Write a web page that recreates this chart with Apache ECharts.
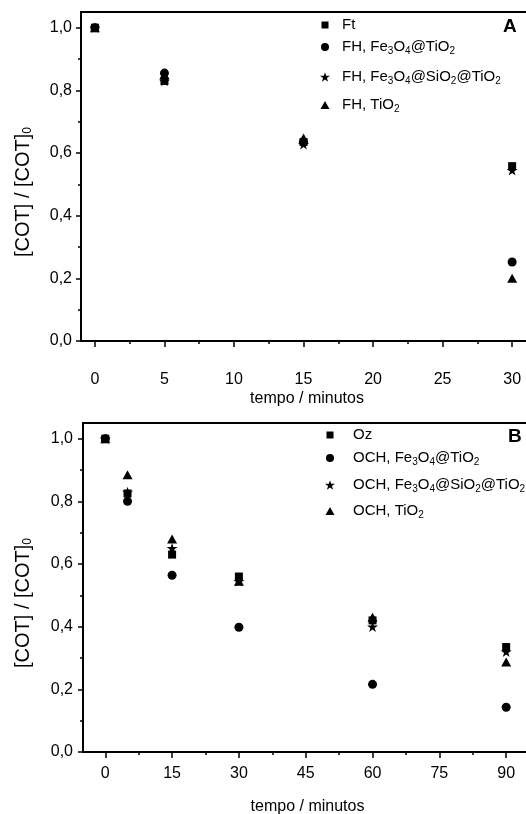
<!DOCTYPE html>
<html><head><meta charset="utf-8">
<script src="https://cdn.jsdelivr.net/npm/echarts@6/dist/echarts.min.js"></script>
<style>html,body{margin:0;padding:0;background:#fff}#c{width:526px;height:814px}</style>
</head><body><div id="c"></div>
<script>
// ---- data ----
const timeA = [0, 5, 15, 30];
const ftA = [1.0, 0.83, 0.635, 0.558];
const fhFeTiA = [1.0, 0.855, 0.635, 0.252];
const fhFeSiTiA = [1.0, 0.83, 0.628, 0.545];
const fhTiA = [1.0, 0.85, 0.648, 0.20];

const timeB = [0, 5, 15, 30, 60, 90];
const ozB = [1.0, 0.825, 0.63, 0.56, 0.42, 0.335];
const ochFeTiB = [1.0, 0.80, 0.564, 0.398, 0.216, 0.143];
const ochFeSiTiB = [1.0, 0.83, 0.65, 0.545, 0.40, 0.32];
const ochTiB = [1.0, 0.885, 0.68, 0.545, 0.43, 0.287];

const namesA = ['Ft', 'FH, Fe3O4@TiO2', 'FH, Fe3O4@SiO2@TiO2', 'FH, TiO2'];
const namesB = ['Oz', 'OCH, Fe3O4@TiO2', 'OCH, Fe3O4@SiO2@TiO2', 'OCH, TiO2'];

const xTicksA = [0, 5, 10, 15, 20, 25, 30];
const xMinorA = [2.5, 7.5, 12.5, 17.5, 22.5, 27.5];
const xTicksB = [0, 15, 30, 45, 60, 75, 90];
const xMinorB = [7.5, 22.5, 37.5, 52.5, 67.5, 82.5];
const yTicks = [0, 0.2, 0.4, 0.6, 0.8, 1.0];
const yMinor = [0.1, 0.3, 0.5, 0.7, 0.9];

// ---- style ----
const FONT = "'Liberation Sans', Arial, sans-serif";
const SQ = 'path://M0,0H10V10H0Z';
const CI = 'path://M5,0A5,5,0,1,1,5,10A5,5,0,1,1,5,0Z';
const ST = 'path://M50,0L61.2,34.5L97.6,34.5L68.2,55.9L79.4,90.5L50,69.1L20.6,90.5L31.8,55.9L2.4,34.5L38.8,34.5Z';
const TR = 'path://M5,0L10,9L0,9Z';
const symbols = [SQ, CI, ST, TR];
const symSizes = [8, 9, 11, 10];

const sub = s => s.replace(/(\d)/g, '{s|$1}');

const chart = echarts.init(document.getElementById('c'));

function xMain(grid, min, max, ticks, margin, gap) {
  return {
    type: 'value', gridIndex: grid, min: min, max: max, position: 'bottom',
    axisLine: { show: true, onZero: false, lineStyle: { color: '#000', width: 2 } },
    axisTick: { show: true, length: 6, customValues: ticks, lineStyle: { color: '#000', width: 1.5 } },
    axisLabel: { customValues: ticks, margin: margin, fontSize: 16, color: '#000', fontFamily: FONT },
    splitLine: { show: false },
    name: 'tempo / minutos', nameLocation: 'middle', nameGap: gap,
    nameTextStyle: { fontSize: 16, color: '#000', fontFamily: FONT }
  };
}
function xMinor(grid, min, max, ticks) {
  return {
    type: 'value', gridIndex: grid, min: min, max: max, position: 'bottom',
    axisLine: { show: false, onZero: false },
    axisTick: { show: true, length: 3, customValues: ticks, lineStyle: { color: '#000', width: 1.5 } },
    axisLabel: { show: false }, splitLine: { show: false }
  };
}
function yMain(grid, margin) {
  return {
    type: 'value', gridIndex: grid, min: 0, max: 1.05, position: 'left',
    axisLine: { show: true, onZero: false, lineStyle: { color: '#000', width: 2 } },
    axisTick: { show: true, length: 5, customValues: yTicks, lineStyle: { color: '#000', width: 1.5 } },
    axisLabel: { customValues: yTicks, margin: margin, fontSize: 16, color: '#000', fontFamily: FONT,
      formatter: v => v.toFixed(1).replace('.', ',') },
    splitLine: { show: false }
  };
}
function yMinorAx(grid) {
  return {
    type: 'value', gridIndex: grid, min: 0, max: 1.05, position: 'left',
    axisLine: { show: false, onZero: false },
    axisTick: { show: true, length: 3, customValues: yMinor, lineStyle: { color: '#000', width: 1.5 } },
    axisLabel: { show: false }, splitLine: { show: false }
  };
}

function makeSeries(names, xs, ys, xi, yi) {
  return names.map((n, i) => ({
    type: 'scatter', name: n, xAxisIndex: xi, yAxisIndex: yi,
    symbol: symbols[i], symbolSize: symSizes[i], symbolKeepAspect: true,
    itemStyle: { color: '#000', opacity: 1 },
    data: xs.map((x, j) => [x, ys[i][j]]),
    z: 10 - i
  }));
}

function makeLegends(names, iconCenterX, textX, centersY) {
  return names.map((n, i) => {
    const h = symSizes[i] - 1;
    const left = iconCenterX - h / 2;
    const spacer = Math.max(0, textX - (left + h + 5));
    return {
      data: [n], orient: 'vertical', selectedMode: false, padding: 0,
      left: left, top: centersY[i] - 9,
      itemWidth: h, itemHeight: h, symbolKeepAspect: true,
      formatter: name => '{g|}' + sub(name),
      textStyle: { fontSize: 15, lineHeight: 18, color: '#000', fontFamily: FONT,
        rich: {
          g: { width: spacer, height: 10 },
          s: { fontSize: 10, lineHeight: 10, padding: [8, 0, 0, 0], fontFamily: FONT, color: '#000' }
        } }
    };
  });
}

const yName = (y) => ({
  type: 'text', x: 23, y: y, rotation: Math.PI / 2,
  style: { text: '[COT] / [COT]{s|0}', align: 'center', verticalAlign: 'middle', fontSize: 20, fontFamily: FONT, fill: '#000',
    rich: { s: { fontSize: 12, lineHeight: 12, padding: [10, 0, 0, 0], fontFamily: FONT, fill: '#000' } } }
});

const option = {
  animation: false,
  backgroundColor: '#fff',
  grid: [
    { left: 81, top: 12, width: 452, height: 329, outerBoundsMode: 'none', containLabel: false,
      show: true, borderColor: '#000', borderWidth: 2, backgroundColor: 'transparent' },
    { left: 83, top: 423, width: 449, height: 329, outerBoundsMode: 'none', containLabel: false,
      show: true, borderColor: '#000', borderWidth: 2, backgroundColor: 'transparent' }
  ],
  xAxis: [
    xMain(0, -1, 31.5, xTicksA, 31, 50),
    xMinor(0, -1, 31.5, xMinorA),
    xMain(1, -5, 95.8, xTicksB, 14, 47),
    xMinor(1, -5, 95.8, xMinorB)
  ],
  yAxis: [yMain(0, 9), yMinorAx(0), yMain(1, 10), yMinorAx(1)],
  legend: [].concat(
    makeLegends(namesA, 325, 342, [25, 47, 77, 105]),
    makeLegends(namesB, 330, 353, [435, 458, 485, 511])
  ),
  graphic: [
    { type: 'text', left: 503, top: 17, style: { text: 'A', font: 'bold 19px ' + FONT, fill: '#000' } },
    { type: 'text', left: 508, top: 427, style: { text: 'B', font: 'bold 19px ' + FONT, fill: '#000' } },
    yName(192),
    yName(603)
  ],
  series: [].concat(
    makeSeries(namesA, timeA, [ftA, fhFeTiA, fhFeSiTiA, fhTiA], 0, 0),
    makeSeries(namesB, timeB, [ozB, ochFeTiB, ochFeSiTiB, ochTiB], 2, 2)
  )
};
chart.setOption(option);
</script></body></html>
